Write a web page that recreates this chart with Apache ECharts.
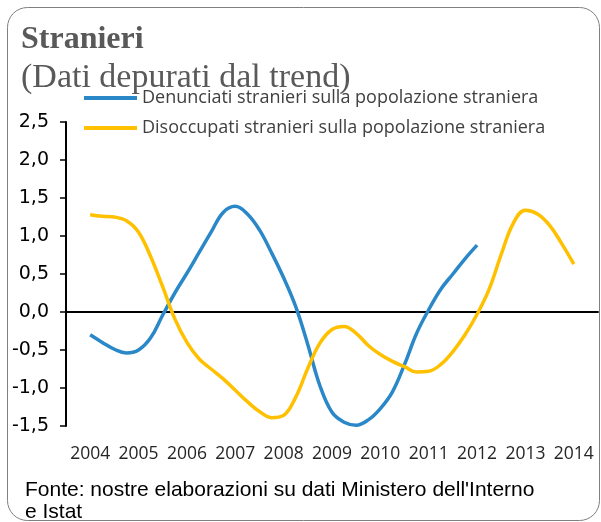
<!DOCTYPE html>
<html>
<head>
<meta charset="utf-8">
<script src="https://cdn.jsdelivr.net/npm/echarts@6/dist/echarts.min.js"></script>
<style>
  html, body { margin: 0; padding: 0; background: #fff; }
  #chart { width: 601px; height: 522px; }
</style>
</head>
<body>
<div id="chart"></div>
<script>
// anni sull'asse
const anni = ['2004', '2005', '2006', '2007', '2008', '2009', '2010', '2011', '2012', '2013', '2014'];
// trimestri (dal 2004T1 al 2014T1)
const trimestri = [
  '2004T1', '2004T2', '2004T3', '2004T4', '2005T1', '2005T2', '2005T3', '2005T4',
  '2006T1', '2006T2', '2006T3', '2006T4', '2007T1', '2007T2', '2007T3', '2007T4',
  '2008T1', '2008T2', '2008T3', '2008T4', '2009T1', '2009T2', '2009T3', '2009T4',
  '2010T1', '2010T2', '2010T3', '2010T4', '2011T1', '2011T2', '2011T3', '2011T4',
  '2012T1', '2012T2', '2012T3', '2012T4', '2013T1', '2013T2', '2013T3', '2013T4',
  '2014T1'
];
// Denunciati stranieri sulla popolazione straniera (fino al 2012T1)
const denunciati = [
  -0.30, -0.40, -0.49, -0.54, -0.50, -0.34, -0.04, 0.25,
  0.51, 0.78, 1.05, 1.31, 1.39, 1.29, 1.08, 0.78,
  0.45, 0.07, -0.43, -0.97, -1.32, -1.45, -1.49, -1.42,
  -1.27, -1.05, -0.69, -0.28, 0.03, 0.30, 0.50, 0.70,
  0.88
];
// Disoccupati stranieri sulla popolazione straniera
const disoccupati = [
  1.28, 1.26, 1.25, 1.20, 1.05, 0.73, 0.33, -0.09,
  -0.40, -0.615, -0.75, -0.88, -1.03, -1.18, -1.31, -1.39,
  -1.36, -1.12, -0.74, -0.41, -0.23, -0.19, -0.28, -0.44,
  -0.56, -0.65, -0.72, -0.79, -0.78, -0.69, -0.52, -0.30,
  -0.03, 0.30, 0.76, 1.17, 1.34, 1.29, 1.14, 0.90,
  0.63
];
const yTicks = [-1.5, -1.0, -0.5, 0.0, 0.5, 1.0, 1.5, 2.0, 2.5];

function posizione(t) {
  return Number(t.slice(0, 4)) + (Number(t.slice(5)) - 1) / 4;
}
function serie(valori) {
  return valori.map((v, i) => [posizione(trimestri[i]), v]);
}

const chart = echarts.init(document.getElementById('chart'));
chart.setOption({
  animation: false,
  title: {
    text: 'Stranieri',
    subtext: '(Dati depurati dal trend)',
    left: 16,
    top: 19,
    itemGap: 5,
    textStyle: { fontFamily: 'Liberation Serif', fontWeight: 'bold', fontSize: 32, color: '#595959' },
    subtextStyle: { fontFamily: 'Liberation Serif', fontSize: 34, color: '#595959' }
  },
  legend: {
    orient: 'vertical',
    left: 79,
    top: 84,
    icon: 'rect',
    itemWidth: 53,
    itemHeight: 4,
    itemGap: 12,
    textStyle: { fontFamily: 'Open Sans', fontSize: 18, color: '#404040' },
    data: ['Denunciati stranieri sulla popolazione straniera', 'Disoccupati stranieri sulla popolazione straniera']
  },
  grid: { left: 66, right: 3, top: 122, bottom: 96, containLabel: false },
  xAxis: [
    {
      type: 'category',
      data: anni,
      boundaryGap: true,
      position: 'bottom',
      axisLine: { show: false, onZero: false },
      axisTick: { show: false },
      axisLabel: { interval: 0, margin: 19, fontFamily: 'Open Sans', fontSize: 17.5, color: '#262626' }
    },
    {
      type: 'category',
      data: anni,
      boundaryGap: true,
      axisLine: { onZero: true, lineStyle: { color: '#000', width: 2 } },
      axisTick: { interval: 0, length: 6, lineStyle: { color: '#555', width: 1.5 } },
      axisLabel: { show: false }
    },
    {
      type: 'value',
      min: 2003.5,
      max: 2014.5,
      show: false
    }
  ],
  yAxis: {
    type: 'value',
    min: -1.5,
    max: 2.5,
    interval: 0.5,
    splitLine: { show: false },
    axisLine: { show: true, lineStyle: { color: '#000', width: 2 } },
    axisTick: { show: true, length: 6, lineStyle: { color: '#000', width: 1.5 } },
    axisLabel: {
      margin: 17,
      fontFamily: 'DejaVu Sans',
      fontSize: 19,
      color: '#000',
      formatter: v => yTicks.includes(v) ? v.toFixed(1).replace('.', ',') : ''
    }
  },
  series: [
    {
      name: 'Denunciati stranieri sulla popolazione straniera',
      type: 'line',
      xAxisIndex: 2,
      smooth: 0.4,
      symbol: 'none',
      lineStyle: { color: '#2b88c8', width: 3.5 },
      itemStyle: { color: '#2b88c8' },
      data: serie(denunciati)
    },
    {
      name: 'Disoccupati stranieri sulla popolazione straniera',
      type: 'line',
      xAxisIndex: 2,
      smooth: 0.4,
      symbol: 'none',
      lineStyle: { color: '#ffc000', width: 3.5 },
      itemStyle: { color: '#ffc000' },
      data: serie(disoccupati)
    }
  ],
  graphic: [
    {
      type: 'rect',
      shape: { x: 7.5, y: 7.5, width: 592, height: 513, r: 20 },
      style: { fill: 'none', stroke: '#7f7f7f', lineWidth: 1 },
      silent: true,
      z: -1
    },
    {
      type: 'text',
      left: 25,
      top: 479,
      style: {
        text: "Fonte: nostre elaborazioni su dati Ministero dell'Interno\ne Istat",
        font: '21px "Liberation Sans"',
        fill: '#000',
        lineHeight: 22
      }
    }
  ]
});
</script>
</body>
</html>
